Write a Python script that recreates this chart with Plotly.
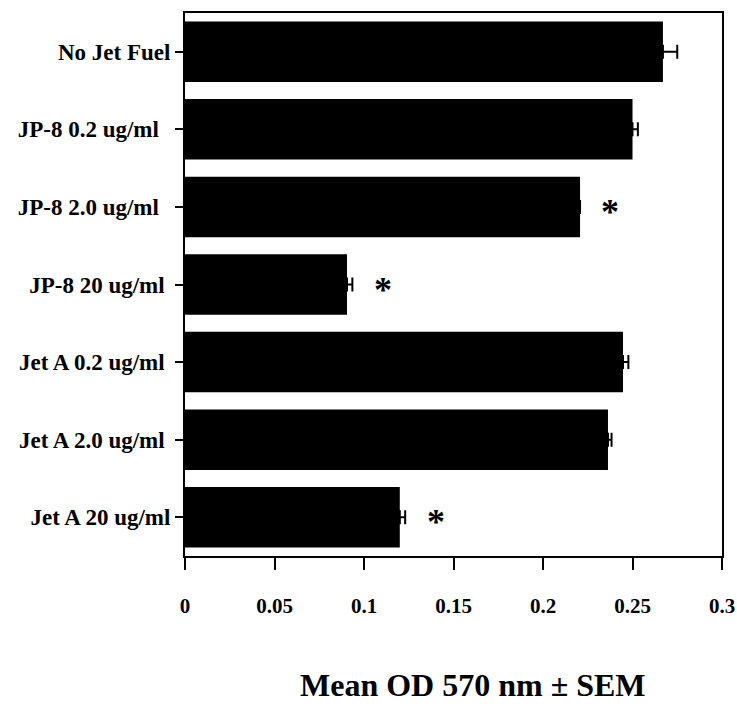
import plotly.graph_objects as go

categories = ["No Jet Fuel", "JP-8 0.2 ug/ml", "JP-8 2.0 ug/ml", "JP-8 20 ug/ml",
              "Jet A 0.2 ug/ml", "Jet A 2.0 ug/ml", "Jet A 20 ug/ml"]
tick_labels = ["No Jet Fuel", "JP-8 0.2 ug/ml\u00a0\u00a0", "JP-8 2.0 ug/ml\u00a0\u00a0",
               "JP-8 20 ug/ml\u00a0", "Jet A 0.2 ug/ml\u00a0", "Jet A 2.0 ug/ml\u00a0",
               "Jet A 20 ug/ml"]
mean_od = [0.267, 0.250, 0.2207, 0.0905, 0.2447, 0.2363, 0.120]
sem = [0.008, 0.003, 0.0, 0.003, 0.003, 0.002, 0.003]
significant = [False, False, True, True, False, False, True]
x_ticks = [0, 0.05, 0.1, 0.15, 0.2, 0.25, 0.3]
x_tick_labels = ["0", "0.05", "0.1", "0.15", "0.2", "0.25", "0.3"]
x_title = "Mean OD 570 nm \u00b1 SEM"

font_family = "Liberation Serif"

fig = go.Figure()
fig.add_trace(go.Bar(
    y=categories, x=mean_od, orientation="h",
    marker=dict(color="black", line=dict(width=0)),
    width=0.78,
    error_x=dict(type="data", array=sem, arrayminus=[0] * len(sem), symmetric=False,
                 color="black", thickness=2, width=7),
))

for cat, v, e, s in zip(categories, mean_od, sem, significant):
    if s:
        fig.add_annotation(x=v + e + 0.017, y=cat, text="<b>*</b>", showarrow=False,
                           font=dict(family=font_family, size=36, color="black"),
                           xanchor="center", yanchor="middle", yshift=-5)

fig.add_annotation(x=0.536, y=-0.238, xref="paper", yref="paper",
                   text="<b>" + x_title + "</b>", showarrow=False,
                   font=dict(family=font_family, size=32, color="black"),
                   xanchor="center", yanchor="middle")

fig.update_layout(
    width=737, height=712,
    margin=dict(l=185, r=15, t=13, b=156),
    paper_bgcolor="white", plot_bgcolor="white",
    showlegend=False,
    font=dict(family=font_family, color="black"),
)
fig.update_yaxes(
    automargin=False,
    categoryorder="array", categoryarray=categories, autorange="reversed",
    tickvals=categories, ticktext=["<b>" + t + "</b>" for t in tick_labels],
    tickfont=dict(family=font_family, size=23, color="black"),
    ticks="outside", ticklen=8, tickwidth=2, tickcolor="black",
    showline=True, linecolor="black", linewidth=2, mirror=True,
    showgrid=False,
)
fig.update_xaxes(
    automargin=False,
    range=[0, 0.3],
    tickvals=x_ticks, ticktext=["<b>" + t + "</b>" for t in x_tick_labels],
    tickfont=dict(family=font_family, size=21, color="black"),
    ticks="outside", ticklen=12, tickwidth=2, tickcolor="black",
    ticklabelstandoff=18, ticklabeloverflow="allow",
    showline=True, linecolor="black", linewidth=2, mirror=True,
    showgrid=False, zeroline=False,
)

fig.write_html("out.html")
